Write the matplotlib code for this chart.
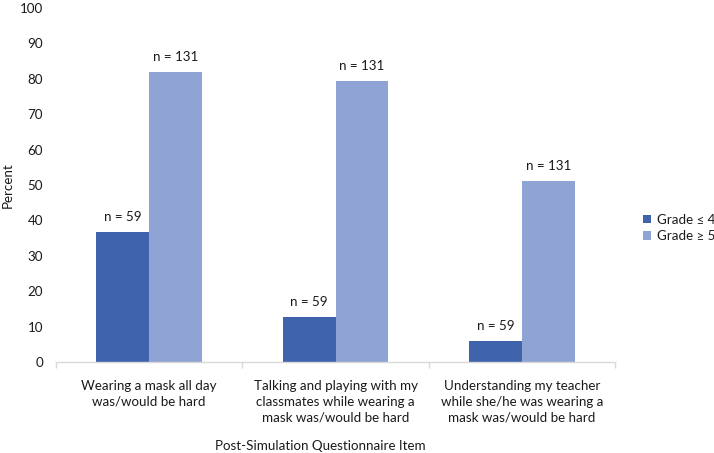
import matplotlib
matplotlib.use("Agg")
import matplotlib.pyplot as plt
from matplotlib.font_manager import FontProperties
from matplotlib.textpath import TextPath
import numpy as np

categories = ["Wearing a mask all day\nwas/would be hard",
              "Talking and playing with my\nclassmates while wearing a\nmask was/would be hard",
              "Understanding my teacher\nwhile she/he was wearing a\nmask was/would be hard"]
grade4 = [36.6, 12.8, 5.8]
grade5 = [81.9, 79.3, 51.0]
n4 = ["n = 59", "n = 59", "n = 59"]
n5 = ["n = 131", "n = 131", "n = 131"]
series_names = ["Grade \u2264 4", "Grade \u2265 5"]
yticks = list(range(0, 101, 10))

plt.rcParams['font.family'] = ['Lato', 'DejaVu Sans']
W, H, DPI = 714, 453, 100

# font size chosen so the first category line is ~135 px wide, as in the reference
tp = TextPath((0, 0), "Wearing a mask all day", size=10, prop=FontProperties(family='Lato'))
fs = 10 * 135 / (tp.get_extents().width * DPI / 72)

c1, c2 = "#4064AC", "#8FA4D4"
tc = "#1a1a1a"
gc = "#D9D9D9"

fig = plt.figure(figsize=(W / DPI, H / DPI), dpi=DPI)
ax_l, ax_r, ax_t, ax_b = 56, 615, 8, 362
ax = fig.add_axes([ax_l / W, 1 - ax_b / H, (ax_r - ax_l) / W, (ax_b - ax_t) / H])
x = np.arange(len(categories))
w = 0.284
b1 = ax.bar(x - w / 2, grade4, w, color=c1, label=series_names[0])
b2 = ax.bar(x + w / 2, grade5, w, color=c2, label=series_names[1])
for bars, labels in ((b1, n4), (b2, n5)):
    for rect, t in zip(bars, labels):
        ax.annotate(t, (rect.get_x() + rect.get_width() / 2, rect.get_height()),
                    xytext=(0, 10.8), textcoords="offset points", ha="center", va="center",
                    fontsize=fs, color=tc)

ax.set_xlim(-0.5, len(categories) - 0.5)
ax.set_ylim(0, 100)
ax.set_yticks(yticks)
ax.tick_params(axis='y', length=0, labelsize=fs, pad=9.4, colors=tc)
ax.set_xticks(x)
ax.set_xticklabels(categories, fontsize=fs, color=tc, linespacing=1.35)
ax.tick_params(axis='x', which='major', length=0, pad=13)
ax.set_xticks(np.arange(-0.5, len(categories), 1), minor=True)
ax.tick_params(axis='x', which='minor', length=4, color=gc, width=1)
for s in ["top", "right", "left"]:
    ax.spines[s].set_visible(False)
ax.spines["bottom"].set_color(gc)
ax.spines["bottom"].set_linewidth(1)

fig.text(8 / W, 1 - 185 / H, "Percent", rotation=90, ha="center", va="center", fontsize=fs, color=tc)
fig.text(320 / W, 1 - 446 / H, "Post-Simulation Questionnaire Item", ha="center", va="center",
         fontsize=fs, color=tc)

sq = 8 * 72 / DPI / fs
fig.legend(handles=[b1, b2], labels=series_names, loc="center left",
           bbox_to_anchor=(643 / W, 1 - 228 / H), frameon=False, fontsize=fs,
           borderpad=0, borderaxespad=0, handlelength=sq, handleheight=sq,
           labelspacing=0.3, handletextpad=0.45, labelcolor=tc)
fig.savefig("out.png", dpi=DPI)
